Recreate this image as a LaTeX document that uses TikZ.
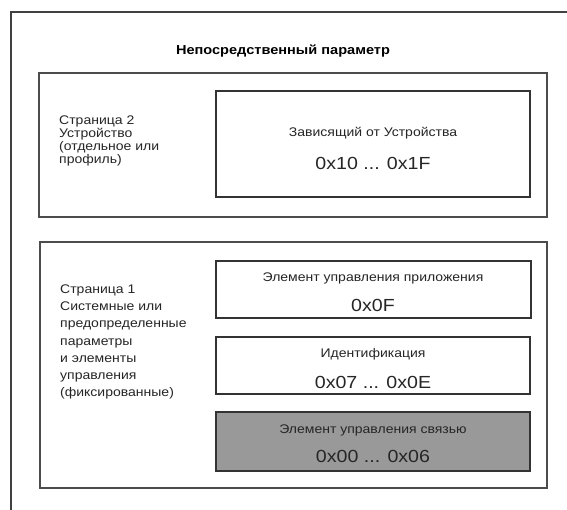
\documentclass[tikz,border=0pt]{standalone}
\usepackage{fontspec}
\setmainfont{Liberation Sans}[FakeStretch=1.12]
\tikzset{
  frameline/.style={draw=black!75, line width=1.6pt},
  pagebox/.style={draw=black!70, line width=1.4pt, inner sep=0pt, anchor=center},
  cell/.style={draw=black!80, line width=1.8pt, inner sep=0pt, anchor=center},
  cellgray/.style={cell, fill=black!40},
  lbl/.style={font=\fontsize{12.5}{14}\selectfont, inner sep=0pt, text=black!85},
  num/.style={font=\fontsize{17.5}{20}\selectfont, inner sep=0pt, text=black!85},
  side/.style={align=left, anchor=west, inner sep=0pt, text=black!85},
  ttl/.style={font=\bfseries\fontsize{13}{15}\selectfont, inner sep=0pt}
}
\begin{document}
\begin{tikzpicture}[x=1pt,y=-1pt]
\useasboundingbox (0,0) rectangle (567,510);
\fill[white] (0,0) rectangle (567,510);
% outer frame (runs off the right and bottom edges)
\coordinate (fa) at (567,12);
\coordinate (fb) at (11,12);
\coordinate (fc) at (11,510);
\draw[frameline] (fa) -- (fb) -- (fc);

\node[ttl] (title) at (283,51) {Непосредственный параметр};

% Page 2
\node[pagebox, minimum width=508, minimum height=144] (p2) at (293,145) {};
\node[cell, minimum width=314, minimum height=106] (dev) at (373,144) {};
\node[lbl] (devT) at (373,133) {Зависящий от Устройства};
\node[num] (devN) at (373,163) {0x10 ... 0x1F};
\node[side, font=\fontsize{12.5}{11.5}\selectfont] (p2l) at (59,141)
  {Страница 2\\Устройство\\(отдельное или\\профиль)};

% Page 1
\node[pagebox, minimum width=507, minimum height=246] (p1) at (293.5,365) {};
\node[cell, minimum width=315, minimum height=57] (a) at (373.5,289.5) {};
\node[lbl] (aT) at (373,278) {Элемент управления приложения};
\node[num] (aN) at (373,305) {0x0F};
\node[cell, minimum width=314, minimum height=57] (b) at (373,365.5) {};
\node[lbl] (bT) at (373,354) {Идентификация};
\node[num] (bN) at (373,382) {0x07 ... 0x0E};
\node[cellgray, minimum width=314, minimum height=59] (c) at (373,441.5) {};
\node[lbl] (cT) at (373,430) {Элемент управления связью};
\node[num] (cN) at (373,456) {0x00 ... 0x06};
\node[side, font=\fontsize{12.5}{17.3}\selectfont] (p1l) at (60,342)
  {Страница 1\\Системные или\\предопределенные\\параметры\\и элементы\\управления\\(фиксированные)};
\end{tikzpicture}
\end{document}
